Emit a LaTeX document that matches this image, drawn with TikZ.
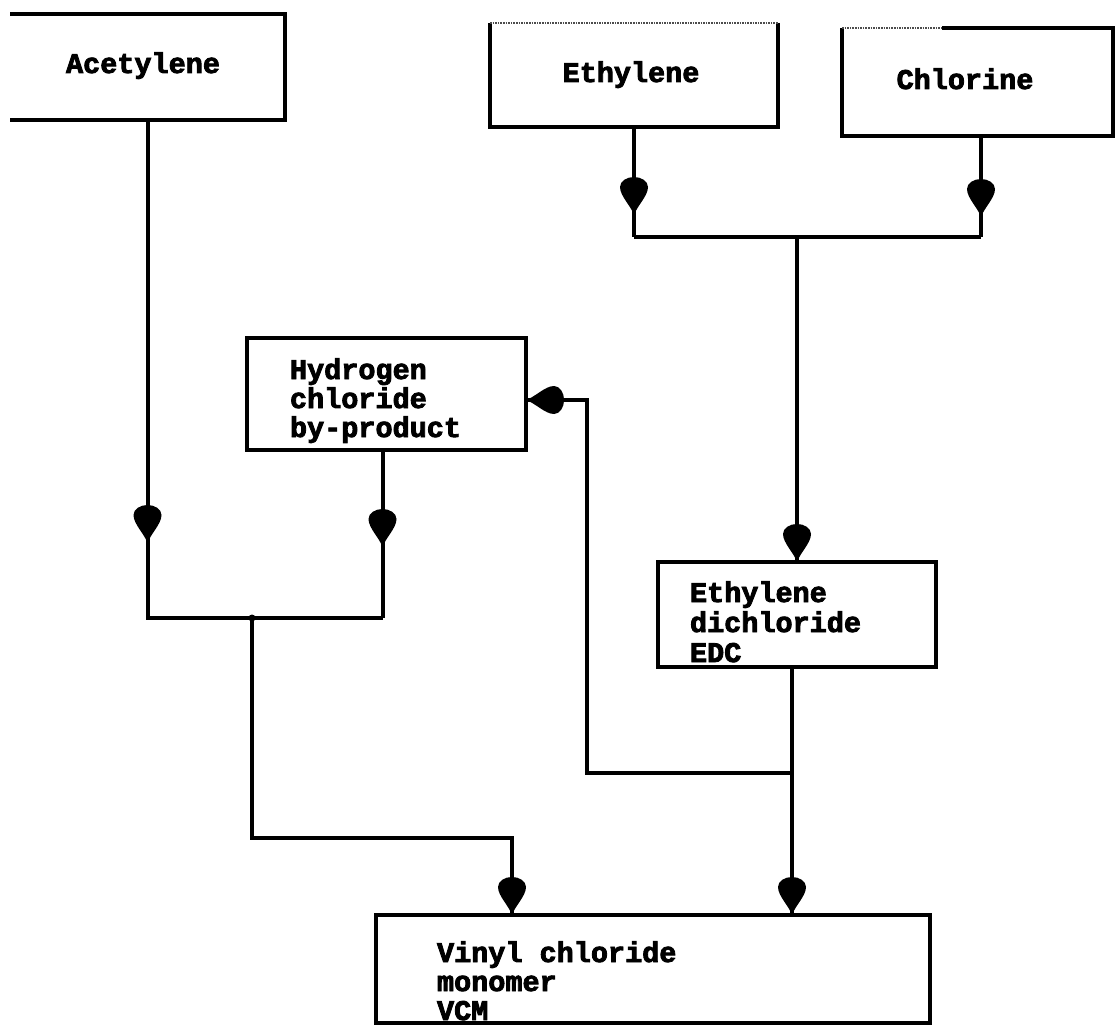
\documentclass[tikz,border=0pt]{standalone}
\usepackage{fontspec}
\newfontfamily\labfont{Liberation Mono}[UprightFont={* Bold}, FakeBold=3]
\usetikzlibrary{decorations.markings}

% filled drop-shaped arrow head, tip at the origin, pointing along +x
\newcommand\tearshape{%
  \fill (0,0) .. controls (-9,3) and (-19,14) .. (-28,14)
        .. controls (-34,14) and (-38,7) .. (-38,0)
        .. controls (-38,-7) and (-34,-14) .. (-28,-14)
        .. controls (-19,-14) and (-9,-3) .. (0,0) -- cycle;}

\tikzset{
  boxarea/.style={draw=none, rectangle, inner sep=0pt, outer sep=0pt},
  frame/.style={line width=4pt, line join=miter},
  faint/.style={line width=1.6pt, densely dotted, black!70},
  flow/.style={line width=4pt},
  tearat/.style={postaction={decorate},
    decoration={markings, mark=at position #1 with {\tearshape}}},
  tearend/.style={tearat=0.9999},
  lab/.style={font=\labfont\fontsize{28.5}{29}\selectfont, inner sep=0pt, outer sep=0pt},
}

\begin{document}
\begin{tikzpicture}[x=1pt, y=-1pt]
  \useasboundingbox (0,0) rectangle (1116,1032);
  \fill[white] (0,0) rectangle (1116,1032);

  % boxes
  \node[boxarea, minimum width=275pt, minimum height=106pt] (ace) at (147.5,67) {};
  \node[boxarea, minimum width=288pt, minimum height=104pt] (eth) at (634,75) {};
  \node[boxarea, minimum width=271pt, minimum height=108pt] (chl) at (977.5,82) {};
  \node[boxarea, minimum width=279pt, minimum height=112pt] (hcl) at (386.5,394) {};
  \node[boxarea, minimum width=278pt, minimum height=105pt] (edc) at (797,614.5) {};
  \node[boxarea, minimum width=554pt, minimum height=108pt] (vcm) at (653,969) {};

  \draw[frame] (ace.north west) -- (ace.north east) -- (ace.south east) -- (ace.south west);
  \draw[frame] (eth.north east) -- (eth.south east) -- (eth.south west) -- (eth.north west);
  \draw[faint] (eth.north west) -- (eth.north east);
  \draw[frame] ([xshift=100pt]chl.north west) -- (chl.north east) -- (chl.south east)
               -- (chl.south west) -- (chl.north west);
  \draw[faint] (chl.north west) -- ([xshift=100pt]chl.north west);
  \draw[frame] (hcl.north west) rectangle (hcl.south east);
  \draw[frame] (edc.north west) rectangle (edc.south east);
  \draw[frame] (vcm.north west) rectangle (vcm.south east);

  % labels
  \node[lab, anchor=base] (tace) at (143,73) {Acetylene};
  \node[lab, anchor=base] (teth) at (631,82) {Ethylene};
  \node[lab, anchor=base] (tchl) at (965,89) {Chlorine};
  \node[lab, anchor=base west] (thcla) at (290,379) {Hydrogen};
  \node[lab, anchor=base west] (thclb) at (290,408) {chloride};
  \node[lab, anchor=base west] (thclc) at (290,437) {by-product};
  \node[lab, anchor=base west] (tedca) at (690,602) {Ethylene};
  \node[lab, anchor=base west] (tedcb) at (690,632) {dichloride};
  \node[lab, anchor=base west] (tedcc) at (690,662) {EDC};
  \node[lab, anchor=base west] (tvcma) at (437,962) {Vinyl chloride};
  \node[lab, anchor=base west] (tvcmb) at (437,991) {monomer};
  \node[lab, anchor=base west] (tvcmc) at (437,1020) {VCM};

  % junction points of the flow lines
  \coordinate (acecorner) at (147.5,618);
  \coordinate (hclcorner) at (382.5,618);
  \coordinate (mix) at (252,618);
  \coordinate (joinL) at (634,237);
  \coordinate (joinR) at (981,237);
  \coordinate (ret) at (792,773);

  % acetylene route
  \draw[flow, tearat=423pt] (ace.south) -- (acecorner) -- (hclcorner);
  \draw[flow, tearat=97pt] ([xshift=-4pt]hcl.south) -- (hclcorner);
  \fill (mix) circle (3.5pt);
  \draw[flow, tearend] (mix) -- ++(0,220) -| ([xshift=-141pt]vcm.north);

  % direct chlorination route
  \draw[flow, tearat=88pt] (eth.south) -- (joinL);
  \draw[flow, tearat=81pt] ([xshift=3.5pt]chl.south) -- (joinR);
  \draw[flow] (joinL) -- (joinR);
  \draw[flow, tearend] (edc.north |- joinL) -- (edc.north);

  % cracking of EDC, HCl recycled
  \draw[flow, tearend] ([xshift=-5pt]edc.south) -- ([xshift=-5pt]edc.south |- vcm.north);
  \draw[flow, tearend] (ret) -| ([xshift=61pt,yshift=-6pt]hcl.east) -- ([yshift=-6pt]hcl.east);
\end{tikzpicture}
\end{document}
